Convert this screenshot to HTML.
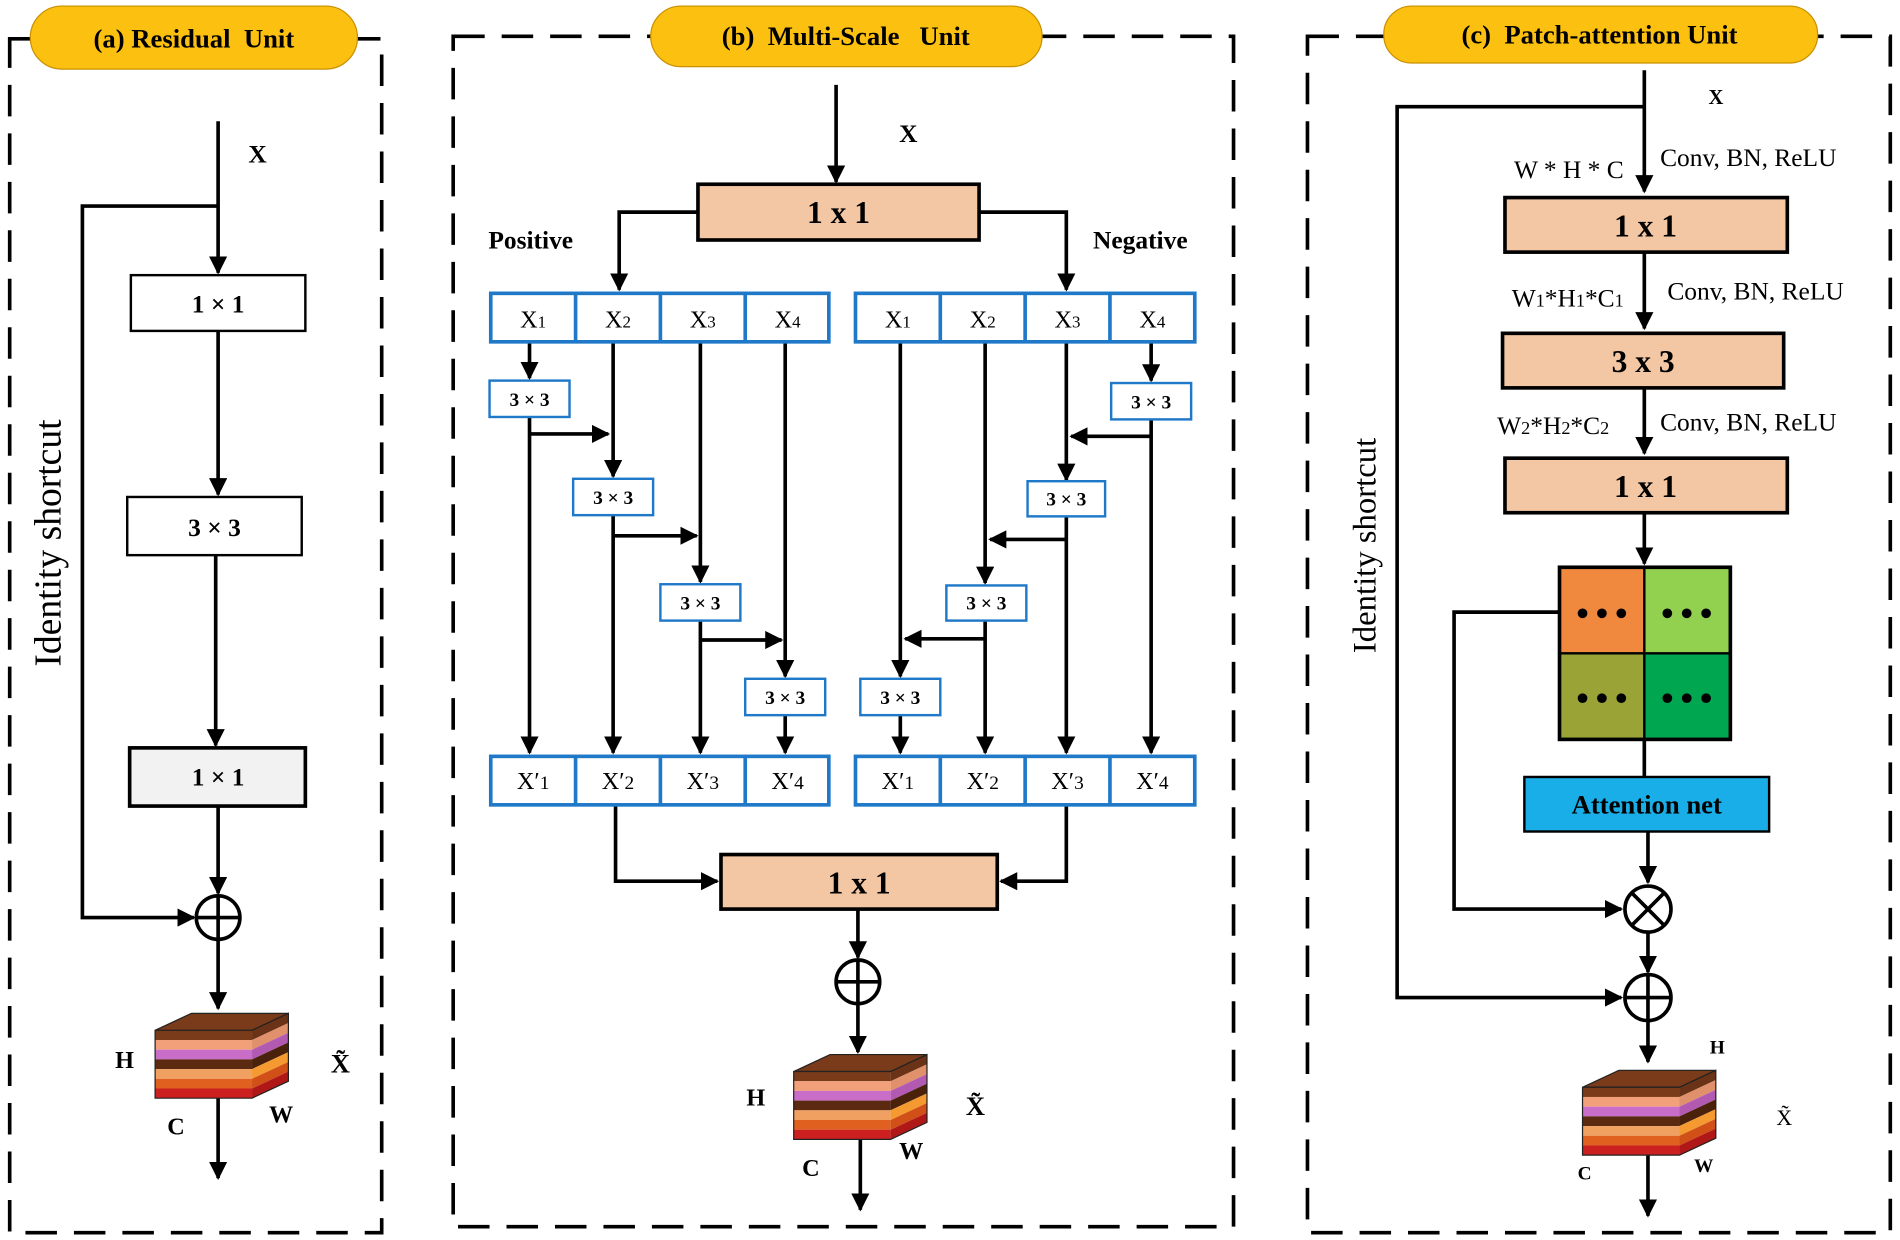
<!DOCTYPE html>
<html><head><meta charset="utf-8"><style>
html,body{margin:0;padding:0;background:#fff}
svg{display:block}
text{font-family:"Liberation Serif",serif;}
.b{font-weight:bold}
</style></head><body>
<svg width="1900" height="1240" viewBox="0 0 1568 1023" preserveAspectRatio="none" xmlns="http://www.w3.org/2000/svg">
<defs>
<marker id="ar" viewBox="0 0 10 10" refX="9" refY="5" markerWidth="5" markerHeight="5" orient="auto" markerUnits="strokeWidth"><path d="M0,0 L10,5 L0,10 z" fill="#000"/></marker>
<g id="cube">
 <polygon points="0,0 30,-14 110,-14 80,0" fill="#7a3b1a" stroke="#222" stroke-width="1"/>
 <rect x="0" y="0" width="80" height="8" fill="#7a3b1a"/>
 <rect x="0" y="8" width="80" height="8" fill="#f2a07a"/>
 <rect x="0" y="16" width="80" height="8" fill="#c86dc8"/>
 <rect x="0" y="24" width="80" height="8" fill="#5b2a10"/>
 <rect x="0" y="32" width="80" height="8" fill="#f0a060"/>
 <rect x="0" y="40" width="80" height="8" fill="#e06020"/>
 <rect x="0" y="48" width="80" height="8" fill="#cc1f1f"/>
 <polygon points="80,0 110,-14 110,-6 80,8" fill="#6a3216"/>
 <polygon points="80,8 110,-6 110,2 80,16" fill="#e0906a"/>
 <polygon points="80,16 110,2 110,10 80,24" fill="#b25ab2"/>
 <polygon points="80,24 110,10 110,18 80,32" fill="#4a220c"/>
 <polygon points="80,32 110,18 110,26 80,40" fill="#f59a30"/>
 <polygon points="80,40 110,26 110,34 80,48" fill="#d05018"/>
 <polygon points="80,48 110,34 110,42 80,56" fill="#b01818"/>
 <polygon points="0,0 80,0 110,-14 110,42 80,56 0,56" fill="none" stroke="#222" stroke-width="1"/>
</g>
</defs>
<g stroke="#000" stroke-width="3" fill="none">
<rect x="8" y="32" width="307" height="985" stroke-dasharray="26,14"/>
<rect x="374" y="30" width="644" height="982" stroke-dasharray="26,14"/>
<rect x="1079" y="30" width="481" height="987" stroke-dasharray="26,14"/>
</g>
<rect x="25" y="5" width="270" height="52" rx="26" fill="#fcc010" stroke="#c89000" stroke-width="1"/>
<text x="160" y="39" text-anchor="middle" class="b" font-size="22">(a) Residual&#160; Unit</text>
<rect x="537" y="5" width="323" height="50" rx="25" fill="#fcc010" stroke="#c89000" stroke-width="1"/>
<text x="698" y="37" text-anchor="middle" class="b" font-size="22">(b)&#160; Multi-Scale&#160;&#160; Unit</text>
<rect x="1142" y="5" width="358" height="47" rx="23" fill="#fcc010" stroke="#c89000" stroke-width="1"/>
<text x="1320" y="36" text-anchor="middle" class="b" font-size="22">(c)&#160; Patch-attention Unit</text>

<g stroke="#000" stroke-width="3" fill="none">
<line x1="180" y1="100" x2="180" y2="225" marker-end="url(#ar)"/>
<polyline points="180,170 68,170 68,757 160,757" marker-end="url(#ar)"/>
<line x1="180" y1="273" x2="180" y2="408" marker-end="url(#ar)"/>
<line x1="178" y1="458" x2="178" y2="615" marker-end="url(#ar)"/>
<line x1="180" y1="665" x2="180" y2="737" marker-end="url(#ar)"/>
<line x1="180" y1="776" x2="180" y2="832" marker-end="url(#ar)"/>
<line x1="180" y1="906" x2="180" y2="972" marker-end="url(#ar)"/>
<circle cx="180" cy="757" r="18"/>
<line x1="162" y1="757" x2="198" y2="757"/><line x1="180" y1="739" x2="180" y2="775"/>
</g>
<rect x="108" y="227" width="144" height="46" fill="#fff" stroke="#000" stroke-width="2"/>
<text x="180" y="258" text-anchor="middle" class="b" font-size="21">1 × 1</text>
<rect x="105" y="410" width="144" height="48" fill="#fff" stroke="#000" stroke-width="2"/>
<text x="177" y="442" text-anchor="middle" class="b" font-size="21">3 × 3</text>
<rect x="107" y="617" width="145" height="48" fill="#f2f2f2" stroke="#000" stroke-width="3"/>
<text x="180" y="648" text-anchor="middle" class="b" font-size="21">1 × 1</text>
<text x="205" y="134" class="b" font-size="21">X</text>
<text x="50" y="448" font-size="31" transform="rotate(-90 50 448)" text-anchor="middle">Identity shortcut</text>
<use href="#cube" x="128" y="850"/>
<text x="95" y="881" class="b" font-size="20">H</text>
<text x="138" y="936" class="b" font-size="20">C</text>
<text x="222" y="926" class="b" font-size="20">W</text>
<text x="273" y="885" class="b" font-size="22">X̃</text>

<g stroke="#000" stroke-width="3" fill="none">
<line x1="690" y1="70" x2="690" y2="150" marker-end="url(#ar)"/>
<polyline points="576,175 511,175 511,239" marker-end="url(#ar)"/>
<polyline points="808,175 880,175 880,239" marker-end="url(#ar)"/>
<line x1="437" y1="282" x2="437" y2="312" marker-end="url(#ar)"/>
<line x1="437" y1="344" x2="437" y2="621" marker-end="url(#ar)"/>
<line x1="437" y1="358" x2="502" y2="358" marker-end="url(#ar)"/>
<line x1="506" y1="282" x2="506" y2="393" marker-end="url(#ar)"/>
<line x1="506" y1="425" x2="506" y2="621" marker-end="url(#ar)"/>
<line x1="506" y1="442" x2="575" y2="442" marker-end="url(#ar)"/>
<line x1="578" y1="282" x2="578" y2="480" marker-end="url(#ar)"/>
<line x1="578" y1="512" x2="578" y2="621" marker-end="url(#ar)"/>
<line x1="578" y1="528" x2="645" y2="528" marker-end="url(#ar)"/>
<line x1="648" y1="282" x2="648" y2="558" marker-end="url(#ar)"/>
<line x1="648" y1="590" x2="648" y2="621" marker-end="url(#ar)"/>
<line x1="950" y1="282" x2="950" y2="314" marker-end="url(#ar)"/>
<line x1="950" y1="346" x2="950" y2="621" marker-end="url(#ar)"/>
<line x1="950" y1="360" x2="884" y2="360" marker-end="url(#ar)"/>
<line x1="880" y1="282" x2="880" y2="396" marker-end="url(#ar)"/>
<line x1="880" y1="426" x2="880" y2="621" marker-end="url(#ar)"/>
<line x1="880" y1="445" x2="817" y2="445" marker-end="url(#ar)"/>
<line x1="813" y1="282" x2="813" y2="481" marker-end="url(#ar)"/>
<line x1="813" y1="512" x2="813" y2="621" marker-end="url(#ar)"/>
<line x1="813" y1="527" x2="747" y2="527" marker-end="url(#ar)"/>
<line x1="743" y1="282" x2="743" y2="558" marker-end="url(#ar)"/>
<line x1="743" y1="590" x2="743" y2="621" marker-end="url(#ar)"/>
<polyline points="508,664 508,727 592,727" marker-end="url(#ar)"/>
<polyline points="880,664 880,727 826,727" marker-end="url(#ar)"/>
<line x1="708" y1="750" x2="708" y2="790" marker-end="url(#ar)"/>
<line x1="708" y1="829" x2="708" y2="868" marker-end="url(#ar)"/>
<line x1="710" y1="940" x2="710" y2="998" marker-end="url(#ar)"/>
<circle cx="708" cy="810" r="18"/>
<line x1="690" y1="810" x2="726" y2="810"/><line x1="708" y1="792" x2="708" y2="828"/>
</g>
<rect x="576" y="152" width="232" height="46" fill="#f4c7a4" stroke="#000" stroke-width="3"/>
<text x="692" y="184" text-anchor="middle" class="b" font-size="26">1 x 1</text>
<text x="742" y="117" class="b" font-size="21">X</text>
<text x="403" y="205" class="b" font-size="21">Positive</text>
<text x="902" y="205" class="b" font-size="21">Negative</text>
<g fill="#fff" stroke="#1f78c8" stroke-width="3">
<rect x="405" y="242" width="279" height="40"/><rect x="706" y="242" width="280" height="40"/>
<rect x="405" y="624" width="279" height="40"/><rect x="706" y="624" width="280" height="40"/>
<line x1="475" y1="242" x2="475" y2="282"/><line x1="545" y1="242" x2="545" y2="282"/><line x1="615" y1="242" x2="615" y2="282"/>
<line x1="776" y1="242" x2="776" y2="282"/><line x1="846" y1="242" x2="846" y2="282"/><line x1="916" y1="242" x2="916" y2="282"/>
<line x1="475" y1="624" x2="475" y2="664"/><line x1="545" y1="624" x2="545" y2="664"/><line x1="615" y1="624" x2="615" y2="664"/>
<line x1="776" y1="624" x2="776" y2="664"/><line x1="846" y1="624" x2="846" y2="664"/><line x1="916" y1="624" x2="916" y2="664"/>
<rect x="404" y="314" width="66" height="30" stroke-width="2"/>
<rect x="473" y="395" width="66" height="30" stroke-width="2"/>
<rect x="545" y="482" width="66" height="30" stroke-width="2"/>
<rect x="615" y="560" width="66" height="30" stroke-width="2"/>
<rect x="917" y="316" width="66" height="30" stroke-width="2"/>
<rect x="848" y="397" width="64" height="29" stroke-width="2"/>
<rect x="781" y="483" width="66" height="29" stroke-width="2"/>
<rect x="710" y="560" width="66" height="30" stroke-width="2"/>
</g>
<g font-size="20" text-anchor="middle">
<text x="440" y="270">X<tspan font-size="14">1</tspan></text><text x="510" y="270">X<tspan font-size="14">2</tspan></text><text x="580" y="270">X<tspan font-size="14">3</tspan></text><text x="650" y="270">X<tspan font-size="14">4</tspan></text>
<text x="741" y="270">X<tspan font-size="14">1</tspan></text><text x="811" y="270">X<tspan font-size="14">2</tspan></text><text x="881" y="270">X<tspan font-size="14">3</tspan></text><text x="951" y="270">X<tspan font-size="14">4</tspan></text>
<text x="440" y="651">X′<tspan font-size="16">1</tspan></text><text x="510" y="651">X′<tspan font-size="16">2</tspan></text><text x="580" y="651">X′<tspan font-size="16">3</tspan></text><text x="650" y="651">X′<tspan font-size="16">4</tspan></text>
<text x="741" y="651">X′<tspan font-size="16">1</tspan></text><text x="811" y="651">X′<tspan font-size="16">2</tspan></text><text x="881" y="651">X′<tspan font-size="16">3</tspan></text><text x="951" y="651">X′<tspan font-size="16">4</tspan></text>
</g>
<g font-size="16" class="b" text-anchor="middle">
<text x="437" y="335" class="b">3 × 3</text><text x="506" y="416" class="b">3 × 3</text><text x="578" y="503" class="b">3 × 3</text><text x="648" y="581" class="b">3 × 3</text>
<text x="950" y="337" class="b">3 × 3</text><text x="880" y="417" class="b">3 × 3</text><text x="814" y="503" class="b">3 × 3</text><text x="743" y="581" class="b">3 × 3</text>
</g>
<rect x="595" y="705" width="228" height="45" fill="#f4c7a4" stroke="#000" stroke-width="3"/>
<text x="709" y="737" text-anchor="middle" class="b" font-size="26">1 x 1</text>
<use href="#cube" x="655" y="884"/>
<text x="616" y="912" class="b" font-size="20">H</text>
<text x="662" y="970" class="b" font-size="20">C</text>
<text x="742" y="956" class="b" font-size="20">W</text>
<text x="797" y="920" class="b" font-size="22">X̃</text>

<g stroke="#000" stroke-width="3" fill="none">
<line x1="1357" y1="58" x2="1357" y2="158" marker-end="url(#ar)"/>
<polyline points="1357,88 1153,88 1153,823 1338,823" marker-end="url(#ar)"/>
<line x1="1357" y1="208" x2="1357" y2="271" marker-end="url(#ar)"/>
<line x1="1357" y1="320" x2="1357" y2="374" marker-end="url(#ar)"/>
<line x1="1357" y1="423" x2="1357" y2="465" marker-end="url(#ar)"/>
<line x1="1357" y1="610" x2="1357" y2="641"/>
<line x1="1360" y1="686" x2="1360" y2="728" marker-end="url(#ar)"/>
<polyline points="1287,505 1200,505 1200,750 1338,750" marker-end="url(#ar)"/>
<line x1="1360" y1="770" x2="1360" y2="802" marker-end="url(#ar)"/>
<line x1="1360" y1="843" x2="1360" y2="876" marker-end="url(#ar)"/>
<line x1="1360" y1="950" x2="1360" y2="1003" marker-end="url(#ar)"/>
<circle cx="1360" cy="750" r="19"/>
<line x1="1347" y1="737" x2="1373" y2="763"/><line x1="1373" y1="737" x2="1347" y2="763"/>
<circle cx="1360" cy="823" r="19"/>
<line x1="1341" y1="823" x2="1379" y2="823"/><line x1="1360" y1="804" x2="1360" y2="842"/>
</g>
<text x="1410" y="86" class="b" font-size="17">X</text>
<text x="1340" y="147" text-anchor="end" font-size="21">W * H * C</text>
<text x="1370" y="137" font-size="21">Conv, BN, ReLU</text>
<text x="1340" y="253" text-anchor="end" font-size="21">W<tspan font-size="15">1</tspan>*H<tspan font-size="15">1</tspan>*C<tspan font-size="15">1</tspan></text>
<text x="1376" y="247" font-size="21">Conv, BN, ReLU</text>
<text x="1328" y="358" text-anchor="end" font-size="21">W<tspan font-size="15">2</tspan>*H<tspan font-size="15">2</tspan>*C<tspan font-size="15">2</tspan></text>
<text x="1370" y="355" font-size="21">Conv, BN, ReLU</text>
<rect x="1242" y="163" width="233" height="45" fill="#f4c7a4" stroke="#000" stroke-width="3"/>
<text x="1358" y="195" text-anchor="middle" class="b" font-size="26">1 x 1</text>
<rect x="1240" y="275" width="232" height="45" fill="#f4c7a4" stroke="#000" stroke-width="3"/>
<text x="1356" y="307" text-anchor="middle" class="b" font-size="26">3 x 3</text>
<rect x="1242" y="378" width="233" height="45" fill="#f4c7a4" stroke="#000" stroke-width="3"/>
<text x="1358" y="410" text-anchor="middle" class="b" font-size="26">1 x 1</text>
<rect x="1287" y="468" width="70" height="71" fill="#f0883e"/>
<rect x="1357" y="468" width="71" height="71" fill="#92d050"/>
<rect x="1287" y="539" width="70" height="71" fill="#9aa336"/>
<rect x="1357" y="539" width="71" height="71" fill="#00a650"/>
<rect x="1287" y="468" width="141" height="142" fill="none" stroke="#000" stroke-width="3"/>
<line x1="1357" y1="468" x2="1357" y2="610" stroke="#000" stroke-width="2"/>
<line x1="1287" y1="539" x2="1428" y2="539" stroke="#000" stroke-width="2"/>
<g fill="#000">
<circle cx="1306" cy="506" r="4"/><circle cx="1322" cy="506" r="4"/><circle cx="1338" cy="506" r="4"/>
<circle cx="1376" cy="506" r="4"/><circle cx="1392" cy="506" r="4"/><circle cx="1408" cy="506" r="4"/>
<circle cx="1306" cy="576" r="4"/><circle cx="1322" cy="576" r="4"/><circle cx="1338" cy="576" r="4"/>
<circle cx="1376" cy="576" r="4"/><circle cx="1392" cy="576" r="4"/><circle cx="1408" cy="576" r="4"/>
</g>
<rect x="1258" y="641" width="202" height="45" fill="#1aaee8" stroke="#000" stroke-width="2"/>
<text x="1359" y="671" text-anchor="middle" class="b" font-size="22">Attention net</text>
<text x="1135" y="450" font-size="27" transform="rotate(-90 1135 450)" text-anchor="middle">Identity shortcut</text>
<use href="#cube" x="1306" y="897"/>
<text x="1411" y="869" class="b" font-size="16">H</text>
<text x="1302" y="973" class="b" font-size="16">C</text>
<text x="1398" y="967" class="b" font-size="16">W</text>
<text x="1466" y="928" font-size="18">X̃</text>
</svg>
</body></html>
